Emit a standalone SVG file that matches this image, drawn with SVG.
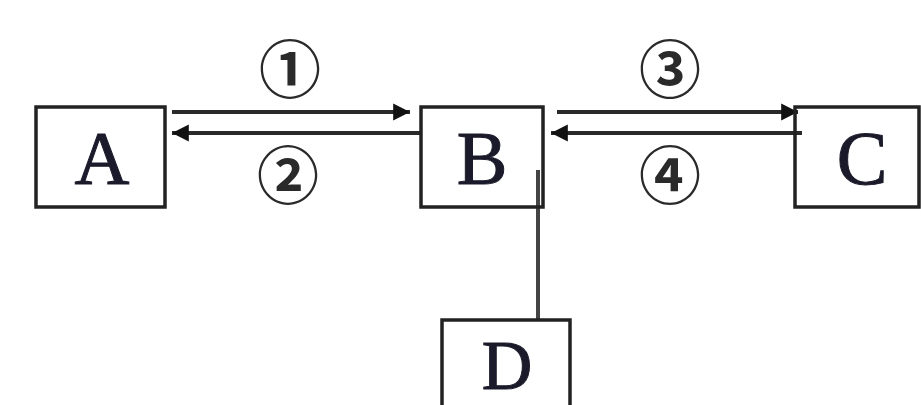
<svg xmlns="http://www.w3.org/2000/svg" width="921" height="405" viewBox="0 0 921 405">
<style>
.box{fill:#fff;stroke:#222;stroke-width:3.5}
.lbl{font-family:"Liberation Serif",serif;font-size:76px;fill:#1a1a2a;stroke:#1a1a2a;stroke-width:1;text-anchor:middle}
.num{font-family:"Noto Sans CJK SC","DejaVu Sans",sans-serif;font-size:62px;font-weight:700;fill:#2a2a2a;text-anchor:middle}
.ln{stroke:#2a2a2a;stroke-width:4;fill:none}
</style>
<defs>
<marker id="ah" viewBox="0 0 10 10" refX="10" refY="5" markerWidth="4.2" markerHeight="4.8" orient="auto" markerUnits="strokeWidth">
<path d="M0,0 L10,5 L0,10 z" fill="#111"/>
</marker>
</defs>
<rect width="921" height="405" fill="#fff"/>
<g id="connectors">
<line class="ln" x1="172" y1="112" x2="410" y2="112" marker-end="url(#ah)"/>
<line class="ln" x1="421" y1="133" x2="172" y2="133" marker-end="url(#ah)"/>
<line class="ln" x1="557" y1="112" x2="798" y2="112" marker-end="url(#ah)"/>
<line class="ln" x1="802" y1="133" x2="551" y2="133" marker-end="url(#ah)"/>
<line class="ln" x1="538" y1="170" x2="538" y2="320" style="stroke:#444"/>
</g>
<g id="labels">
<text class="num" x="290" y="93">①</text>
<text class="num" x="288" y="199">②</text>
<text class="num" x="670" y="93">③</text>
<text class="num" x="670" y="199">④</text>
</g>
<g id="node-A">
<rect class="box" x="36" y="107" width="129" height="100"/>
<text class="lbl" x="102" y="184">A</text>
</g>
<g id="node-B">
<rect class="box" x="421" y="107" width="122" height="100" style="fill:none"/>
<text class="lbl" x="482" y="184">B</text>
</g>
<g id="node-C">
<rect class="box" x="795" y="107" width="124" height="100" style="fill:none"/>
<text class="lbl" x="862" y="184">C</text>
</g>
<g id="node-D">
<rect class="box" x="442" y="320" width="128" height="100"/>
<text class="lbl" x="507" y="389" style="font-size:70px">D</text>
</g>
</svg>
